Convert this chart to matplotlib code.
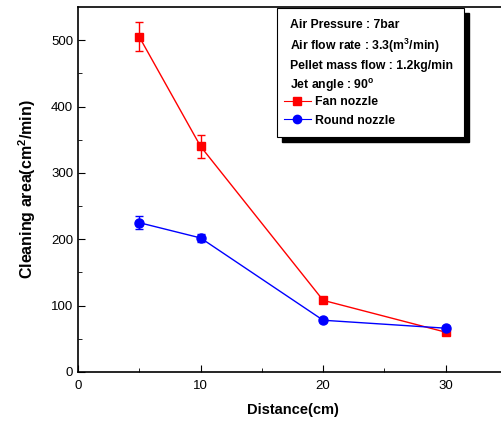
import matplotlib.pyplot as plt
from matplotlib.patches import Rectangle
from matplotlib.lines import Line2D

plt.rcParams['font.family'] = ['Liberation Sans', 'DejaVu Sans']
plt.rcParams['mathtext.fontset'] = 'custom'
plt.rcParams['mathtext.rm'] = 'Liberation Sans:bold'
plt.rcParams['mathtext.default'] = 'regular'

distance = [5, 10, 20, 30]
fan = [505, 340, 108, 60]
fan_err = [22, 17, 3, 3]
rnd = [225, 202, 78, 66]
rnd_err = [10, 6, 3, 3]

fig = plt.figure(figsize=(5.01, 4.26), dpi=100)
ax = fig.add_axes([78 / 501, 54 / 426, 429 / 501, 365 / 426])

ax.errorbar(distance, fan, yerr=fan_err, color='red', marker='s', ms=6,
            lw=1, capsize=3, elinewidth=1, label='Fan nozzle')
ax.errorbar(distance, rnd, yerr=rnd_err, color='blue', marker='o', ms=6.5,
            lw=1, capsize=3, elinewidth=1, label='Round nozzle')

ax.set_xlim(0, 35)
ax.set_ylim(0, 550)
ax.set_xticks([0, 10, 20, 30])
ax.set_xticks([5, 15, 25], minor=True)
ax.set_yticks([0, 100, 200, 300, 400, 500])
ax.set_yticks([50, 150, 250, 350, 450], minor=True)
ax.tick_params(which='both', direction='in', labelsize=9.5)
ax.tick_params(which='major', length=5)
ax.tick_params(which='minor', length=3)
ax.tick_params(axis='x', pad=6)
for s in ax.spines.values():
    s.set_linewidth(1.2)

ax.set_xlabel('Distance(cm)', fontsize=10.5, fontweight='bold', labelpad=8)
ax.set_ylabel('Cleaning area(cm$^2$/min)', fontsize=11.5, fontweight='bold', labelpad=9)

# info box with shadow
tr = fig.transFigure
def fx(px):
    return px / 501
def fy(py):
    return 1 - py / 426

fig.patches.append(Rectangle((fx(282), fy(142)), fx(187), 129 / 426, transform=tr,
                             facecolor='black', edgecolor='black', zorder=5))
fig.patches.append(Rectangle((fx(277), fy(137)), fx(187), 129 / 426, transform=tr,
                             facecolor='white', edgecolor='black', lw=0.8, zorder=6))

lines = ['Air Pressure : 7bar',
         'Air flow rate : 3.3(m$^3$/min)',
         'Pellet mass flow : 1.2kg/min',
         'Jet angle : 90$^o$']
ys = [25, 46, 66, 86]
for t, y in zip(lines, ys):
    fig.text(fx(290), fy(y), t, fontsize=8.8, fontweight='bold', va='center', zorder=7)

h1 = Line2D([], [], color='red', marker='s', ms=5.5, lw=0.8)
h2 = Line2D([], [], color='blue', marker='o', ms=6, lw=0.8)
leg = fig.legend([h1, h2], ['Fan nozzle', 'Round nozzle'], loc='upper left',
                 bbox_to_anchor=(fx(284), fy(96)), frameon=False,
                 prop={'size': 8.8, 'weight': 'bold'}, handlelength=2.2,
                 handletextpad=0.3, labelspacing=0.55, borderpad=0, borderaxespad=0)
leg.set_zorder(8)

fig.savefig('out.png', dpi=100)
